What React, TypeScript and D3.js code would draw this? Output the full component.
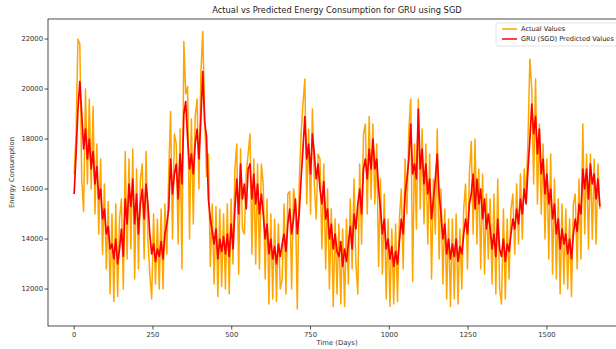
import * as d3 from "d3";

const W = 616;
const H = 349;
const M = { left: 48, top: 19, right: 626, bottom: 326 };

// sampled every 6 days
const DAYS = d3.range(0, 1669, 6);

const ACTUAL = [
  16600, 18200, 22000, 21800, 16400, 15100, 20000, 16200, 19600, 16000,
  19300, 15000, 17800, 14200, 17200, 13400, 16200, 12800, 15500, 11800,
  15000, 11500, 15400, 11700, 14800, 15600, 12000, 17500, 13200, 17200,
  13600, 17600, 12400, 16800, 12800, 16400, 17000, 13200, 17500, 14000,
  12600, 11600, 15000, 12200, 14800, 12000, 15200, 12000, 15400, 13400,
  16600, 19100, 14000, 18200, 17800, 13800, 18400, 12800, 21900, 19800,
  20100, 14000, 18800, 14600, 18900, 19600, 16000, 20600, 22300, 18900,
  16500, 17400, 12900, 15400, 12200, 15300, 11700, 15200, 12100, 15000,
  12000, 15400, 11800, 15600, 13000, 16800, 17800, 12600, 17600, 14400,
  14200, 16600, 17400, 18200, 13400, 17200, 13000, 17000, 12800, 17000,
  16200, 12400, 15600, 11400, 15000, 11600, 14800, 11500, 14600, 12000,
  12400, 15400, 11800, 15800, 15900, 12000, 16000, 15400, 11200, 16200,
  18200, 19400, 20400, 15400, 18400, 15000, 19200, 16200, 14800, 17400,
  17200, 13600, 17000, 12800, 16000, 12000, 15200, 11300, 14800, 11800,
  14600, 11400, 14400, 11300, 14800, 12200, 15600, 12800, 16400, 13000,
  11800, 17000, 13800, 18200, 18600, 15000, 18900, 15600, 18600, 15400,
  17800, 12900, 16400, 12600, 15800, 11600, 14800, 11300, 14400, 11400,
  14600, 11500, 14800, 16000, 12800, 17200, 15000, 18400, 19600, 12300,
  17800, 14400, 19600, 15200, 18400, 14600, 17800, 13800, 17400, 12400,
  16400, 14200, 18400, 13200, 16000, 12200, 15200, 11600, 14800, 11300,
  14800, 11600, 15000, 11400, 14400, 12000, 15200, 16200, 12800, 16600,
  17900, 14200, 18000, 13800, 16800, 12800, 16600, 12600, 15800, 13200,
  15600, 12200, 15800, 11800, 16400, 12000, 11400, 15200, 11600, 14800,
  12400, 15200, 15800, 13400, 16200, 13800, 16600, 14000, 16800, 15600,
  18000, 21200, 20000, 16200, 20400, 15400, 18600, 15000, 17800, 14000,
  17200, 13200, 17400, 12600, 16400, 12400, 15600, 11800, 15400, 12200,
  15200, 12000, 14800, 11700, 15400, 15800, 12800, 16400, 13200, 18600,
  14200, 17400, 13600, 17400, 14000, 17200, 13800, 17000, 15200,
];

const PREDICTED = [
  15800, 17400, 19200, 20300, 19000, 17600, 18400, 17200, 18000, 16800,
  17500, 16200, 16900, 15600, 16000, 14800, 15200, 14200, 14500, 13600,
  13800, 13200, 14000, 13000, 13600, 14400, 13300, 15600, 14600, 16200,
  15300, 16400, 14600, 15800, 14200, 15400, 16000, 14800, 16200, 15400,
  14200, 13400, 13800, 13100, 13600, 13300, 13900, 13200, 14200, 14600,
  15200, 17200, 15800, 16600, 17000, 15600, 17400, 16200, 19000, 19500,
  18000, 16800, 17400, 16600, 17800, 18400, 17200, 18800, 20700, 18700,
  18100, 15600, 14800, 14300, 13800, 14400, 13200, 14000, 13500, 14100,
  13400, 14200, 13300, 14600, 13600, 15200, 16400, 15000, 17000, 15600,
  16200, 15200, 16800, 17000, 15600, 16600, 15400, 16200, 15000, 15800,
  15000, 14000, 14600, 13400, 14000, 13200, 13700, 13000, 13800, 13300,
  13800, 14200, 13500, 14600, 15200, 14200, 14800, 15600, 14200, 15000,
  16400, 17600, 18900, 17200, 17800, 16600, 18200, 17400, 16400, 17000,
  16000, 15400, 16300, 14800, 15200, 14000, 14600, 13600, 14200, 13500,
  13300, 13900, 12900, 13600, 13100, 13800, 14500, 13600, 15000, 14400,
  15400, 16000, 15000, 16800, 17200, 16400, 17600, 16800, 18000, 16800,
  17200, 16000, 15200, 14200, 14800, 13600, 14000, 13200, 13700, 12900,
  13500, 13000, 13900, 14800, 14200, 15800, 16400, 17200, 18600, 16600,
  17000, 16400, 19200, 16800, 17600, 16200, 17000, 15800, 16400, 14800,
  15600, 16400, 17400, 15800, 15000, 14000, 14600, 13400, 14000, 13200,
  13800, 13300, 14000, 13100, 13700, 13400, 14200, 14800, 14200, 15400,
  15800, 16600, 15200, 16400, 15400, 16000, 14800, 15600, 14400, 15000,
  14400, 13600, 14200, 13300, 14800, 13600, 13300, 14000, 13100, 13800,
  13500, 14200, 14800, 14400, 15200, 14600, 15600, 15000, 16000, 15400,
  16800, 18000, 19400, 18200, 18900, 17400, 18400, 16600, 17200, 15800,
  16600, 15400, 16000, 14800, 15400, 14200, 14800, 13600, 14400, 13800,
  14200, 13400, 14000, 13200, 14200, 14800, 14300, 15400, 15000, 16800,
  16000, 16800, 15600, 17000, 16200, 16600, 15600, 16400, 15300,
];

const Y_TICKS = [12000, 14000, 16000, 18000, 20000, 22000];
const X_TICKS = [0, 250, 500, 750, 1000, 1250, 1500];

const FONT = "DejaVu Sans, sans-serif";

export default function App() {
  const x = d3.scaleLinear().domain([-83, 1751]).range([M.left, M.right]);
  const y = d3.scaleLinear().domain([10520, 22800]).range([M.bottom, M.top]);

  const n = Math.min(DAYS.length, ACTUAL.length, PREDICTED.length);
  const line = (vals: number[]) =>
    d3
      .line<number>()
      .x((_, i) => x(DAYS[i]))
      .y((v) => y(v))(vals.slice(0, n)) || "";

  return (
    <svg
      width={W}
      height={H}
      style={{ position: "absolute", left: 0, top: 0, background: "#fff" }}
      fontFamily={FONT}
    >
      <defs>
        <clipPath id="plot">
          <rect x={M.left} y={M.top} width={M.right - M.left} height={M.bottom - M.top} />
        </clipPath>
      </defs>

      <text x={337} y={13} textAnchor="middle" fontSize={8.3} fill="#222">
        Actual vs Predicted Energy Consumption for GRU using SGD
      </text>

      <g clipPath="url(#plot)">
        <path d={line(ACTUAL)} fill="none" stroke="orange" strokeWidth={1.5} strokeLinejoin="round" />
        <path d={line(PREDICTED)} fill="none" stroke="red" strokeWidth={1.7} strokeLinejoin="round" />
      </g>

      {/* frame */}
      <rect
        x={M.left}
        y={M.top}
        width={M.right - M.left}
        height={M.bottom - M.top}
        fill="none"
        stroke="#222"
        strokeWidth={0.8}
      />

      {/* y axis */}
      {Y_TICKS.map((t) => (
        <g key={t}>
          <line x1={M.left - 3.5} x2={M.left} y1={y(t)} y2={y(t)} stroke="#222" strokeWidth={0.8} />
          <text x={M.left - 5} y={y(t)} dy="0.34em" textAnchor="end" fontSize={6.8} fill="#333">
            {t}
          </text>
        </g>
      ))}
      <text
        transform={`translate(14,${(M.top + M.bottom) / 2}) rotate(-90)`}
        textAnchor="middle"
        fontSize={6.8}
        fill="#333"
      >
        Energy Consumption
      </text>

      {/* x axis */}
      {X_TICKS.map((t) => (
        <g key={t}>
          <line x1={x(t)} x2={x(t)} y1={M.bottom} y2={M.bottom + 3.5} stroke="#222" strokeWidth={0.8} />
          <text x={x(t)} y={M.bottom + 11} textAnchor="middle" fontSize={6.8} fill="#333">
            {t}
          </text>
        </g>
      ))}
      <text x={337} y={345} textAnchor="middle" fontSize={6.8} fill="#333">
        Time (Days)
      </text>

      {/* legend (box runs past the right edge, as in the source figure) */}
      <g transform="translate(496,23)">
        <rect x={0} y={0} width={140} height={23} rx={2} fill="#fff" fillOpacity={0.85} stroke="#ddd" strokeWidth={0.8} />
        <line x1={6} x2={21} y1={6} y2={6} stroke="orange" strokeWidth={1.5} />
        <text x={25} y={6} dy="0.34em" fontSize={6.6} fill="#222">
          Actual Values
        </text>
        <line x1={6} x2={21} y1={16} y2={16} stroke="red" strokeWidth={1.5} />
        <text x={25} y={16} dy="0.34em" fontSize={6.6} fill="#222">
          GRU (SGD) Predicted Values
        </text>
      </g>
    </svg>
  );
}
